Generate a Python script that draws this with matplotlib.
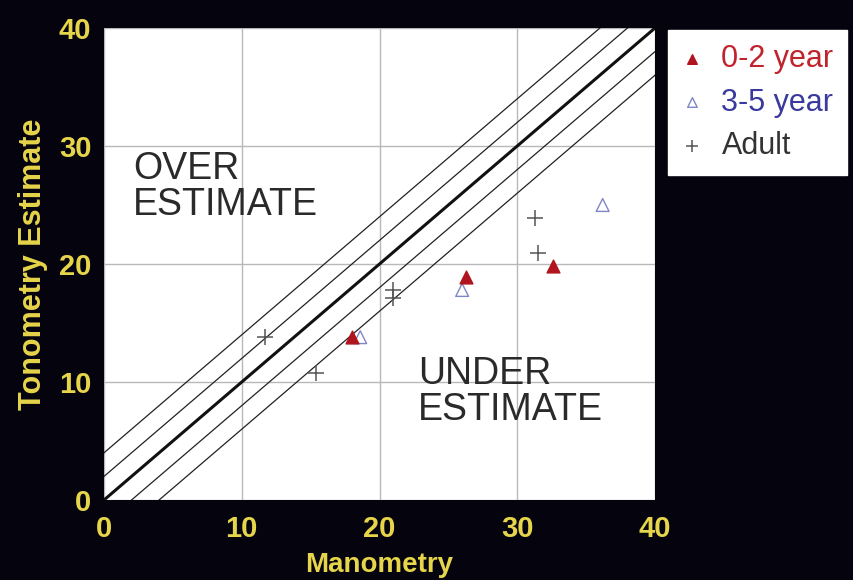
import numpy as np
import matplotlib.pyplot as plt

plt.rcParams['font.family'] = ['Liberation Sans', 'DejaVu Sans']

# manometry (x) vs tonometry estimate (y)
infant_x = [18.0, 26.3, 32.6]
infant_y = [13.8, 18.9, 19.8]
child_x = [18.6, 26.0, 36.2]
child_y = [13.8, 17.8, 25.0]
adult_x = [11.7, 15.4, 21.0, 21.0, 31.3, 31.5]
adult_y = [13.8, 10.8, 17.8, 17.1, 23.9, 20.9]
offsets = [-4, -2, 2, 4]

bg = '#05030d'
yellow = '#e6d54a'

fig = plt.figure(figsize=(8.54, 5.8), dpi=100, facecolor=bg)
ax = fig.add_axes([104/854, 1 - 500/580, 551/854, 472/580])
ax.set_facecolor('white')
ax.set_xlim(0, 40)
ax.set_ylim(0, 40)
ax.set_xticks([0, 10, 20, 30, 40])
ax.set_yticks([0, 10, 20, 30, 40])
ax.grid(True, color='#b8b8b8', lw=1.0)
ax.set_axisbelow(True)
for s in ax.spines.values():
    s.set_visible(False)
ax.tick_params(length=0, colors=yellow, labelsize=21)
ax.tick_params(axis='x', pad=11)
ax.tick_params(axis='y', pad=9)
for lab in ax.get_xticklabels() + ax.get_yticklabels():
    lab.set_fontweight('bold')

# identity line and +/- 2, 4 bands
xs = np.array([0, 40])
ax.plot(xs, xs, color='#111111', lw=2.2, zorder=2)
for o in offsets:
    ax.plot(xs, xs + o, color='#222222', lw=0.9, zorder=2)

ax.scatter(adult_x, adult_y, marker='+', s=120, color='#555555', lw=1.1, zorder=3, label='Adult')
ax.scatter(child_x, child_y, marker='^', s=85, facecolors='none', edgecolors='#7e86c8', lw=1.0, zorder=3, label='3-5 year')
ax.scatter(infant_x, infant_y, marker='^', s=85, color='#b0151f', zorder=4, label='0-2 year')

ax.text(2.1, 29.6, 'OVER\nESTIMATE', fontsize=27, color='#2a2a2a', va='top', ha='left', linespacing=1.0)
ax.text(22.8, 12.2, 'UNDER\nESTIMATE', fontsize=27, color='#2a2a2a', va='top', ha='left', linespacing=1.0)

ax.set_xlabel('Manometry', color=yellow, fontsize=20, fontweight='bold', labelpad=6)
ax.set_ylabel('Tonometry Estimate', color=yellow, fontsize=22, fontweight='bold', labelpad=8)

h, l = ax.get_legend_handles_labels()
order = [2, 1, 0]
leg = fig.legend([h[i] for i in order], [l[i] for i in order], loc='upper left',
                 bbox_to_anchor=(668/854, 1 - 30/580), fontsize=22, frameon=True,
                 fancybox=False, framealpha=1, edgecolor='white', handlelength=0.7,
                 handletextpad=0.6, borderpad=0.45, labelspacing=0.45, markerscale=0.75,
                 borderaxespad=0)
cols = ['#c0232b', '#3a3a9e', '#333333']
for t, c in zip(leg.get_texts(), cols):
    t.set_color(c)

fig.savefig('out.png', dpi=100, facecolor=bg)
